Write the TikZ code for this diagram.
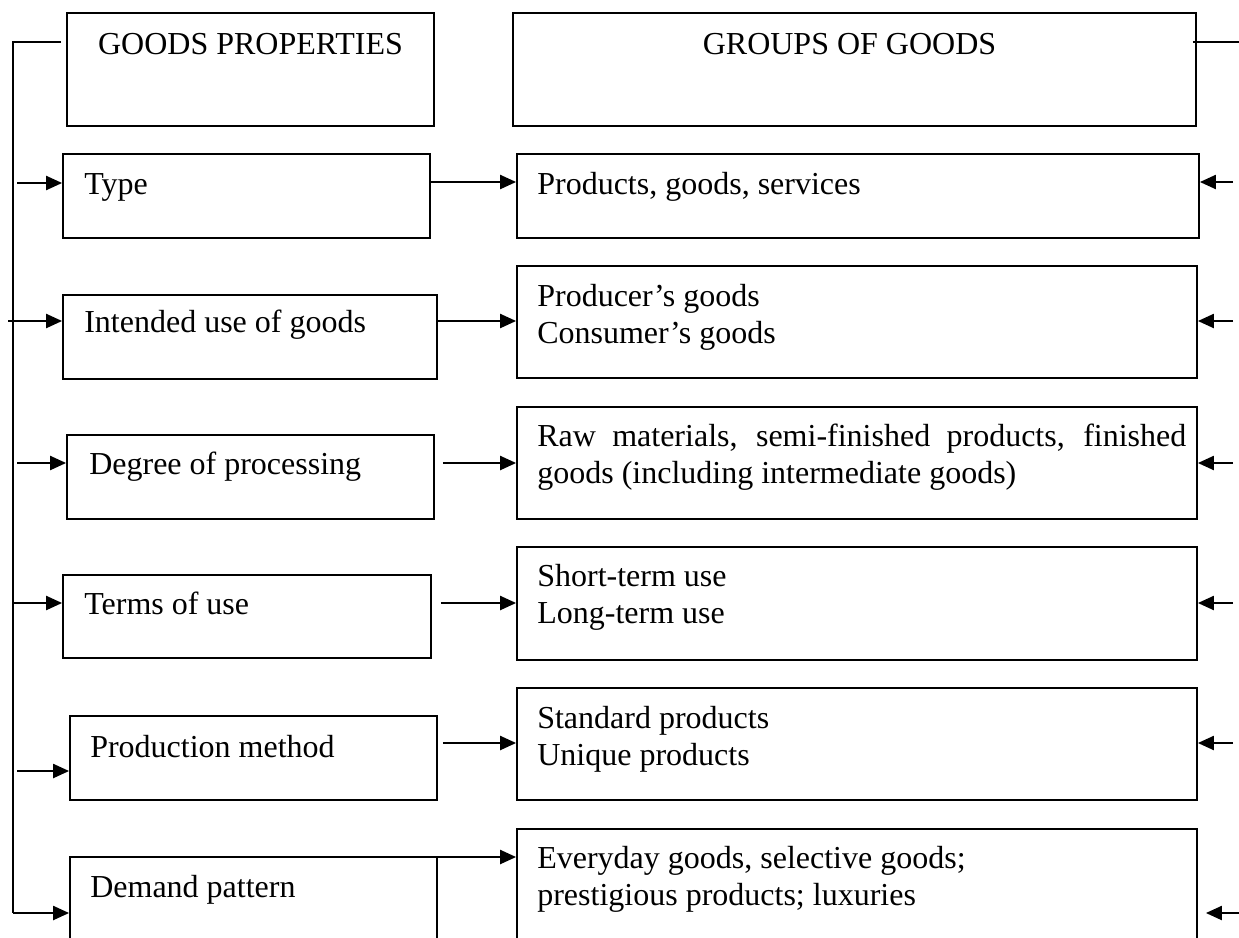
\documentclass[tikz,border=0pt]{standalone}
\usepackage{fontspec}
\setmainfont{Liberation Serif}
\usetikzlibrary{arrows.meta,calc}
\begin{document}
\begin{tikzpicture}[x=1pt,y=-1pt,
  box/.style={draw, line width=1.8pt, inner sep=0pt, rectangle},
  txt/.style={anchor=base west, inner sep=0pt, align=left, font=\fontsize{32}{37}\selectfont},
  conn/.style={line width=2.2pt},
  arr/.style={line width=2.2pt, -{Triangle[length=16pt,width=14pt]}}]
\useasboundingbox (0,0) rectangle (1239,937);
\fill[white] (0,0) rectangle (1239,937);
\begin{scope}
\clip (0,0) rectangle (1239,937);

% headers
\node[box, minimum width=367pt, minimum height=113pt] (hdrL) at (250.5,69.5) {};
\node[box, minimum width=683pt, minimum height=113pt] (hdrR) at (854.5,69.5) {};
\node[txt, anchor=base] (hdrLt) at ($(hdrL.north)+(0,42)$) {GOODS PROPERTIES};
\node[txt, anchor=base] (hdrRt) at ($(hdrR.north)+(-5,42)$) {GROUPS OF GOODS};

% left column: goods properties
\node[box, minimum width=367pt, minimum height=84pt] (L1) at (246.5,196) {};
\node[box, minimum width=374pt, minimum height=84pt] (L2) at (250,337) {};
\node[box, minimum width=367pt, minimum height=84pt] (L3) at (250.5,477) {};
\node[box, minimum width=368pt, minimum height=83pt] (L4) at (247,616.5) {};
\node[box, minimum width=367pt, minimum height=84pt] (L5) at (253.5,758) {};
\node[box, minimum width=367pt, minimum height=100pt] (L6) at (253.5,907) {};

\node[txt] (L1t) at ($(L1.north west)+(22,41)$) {Type};
\node[txt] (L2t) at ($(L2.north west)+(22,38)$) {Intended use of goods};
\node[txt] (L3t) at ($(L3.north west)+(23,40)$) {Degree of processing};
\node[txt] (L4t) at ($(L4.north west)+(22,40)$) {Terms of use};
\node[txt] (L5t) at ($(L5.north west)+(21,42)$) {Production method};
\node[txt] (L6t) at ($(L6.north west)+(21,41)$) {Demand pattern};

% right column: groups of goods (two-line texts are placed by their second baseline)
\node[box, minimum width=682pt, minimum height=84pt] (R1) at (858,196) {};
\node[box, minimum width=680pt, minimum height=112pt] (R2) at (857,322) {};
\node[box, minimum width=680pt, minimum height=112pt] (R3) at (857,463) {};
\node[box, minimum width=680pt, minimum height=113pt] (R4) at (857,603.5) {};
\node[box, minimum width=680pt, minimum height=112pt] (R5) at (857,744) {};
\node[box, minimum width=680pt, minimum height=131pt] (R6) at (857,894.5) {};

\node[txt] (R1t) at ($(R1.north west)+(21,41)$) {Products, goods, services};
\node[txt] (R2t) at ($(R2.north west)+(21,78)$) {Producer’s goods\\Consumer’s goods};
\node[txt] (R3t) at ($(R3.north west)+(21,77)$)
  {\makebox[649pt][s]{Raw materials, semi-finished products, finished}\\goods (including intermediate goods)};
\node[txt] (R4t) at ($(R4.north west)+(21,77)$) {Short-term use\\Long-term use};
\node[txt] (R5t) at ($(R5.north west)+(21,78)$) {Standard products\\Unique products};
\node[txt] (R6t) at ($(R6.north west)+(21,77)$) {Everyday goods, selective goods;\\prestigious products; luxuries};

% left trunk
\coordinate (top) at (13,42);
\coordinate (bot) at (13,913);
\coordinate (ya) at (0,183);
\coordinate (yb) at (0,321);
\coordinate (yc) at (0,463);
\coordinate (yd) at (0,603);
\coordinate (ye) at (0,771);
\draw[conn] ([xshift=-5pt]hdrL.west |- top) -- (top) -- (bot);
\draw[arr] ([xshift=4pt]top |- ya) -- (L1.west |- ya);
\draw[arr] ([xshift=-5pt]top |- yb) -- (L2.west |- yb);
\draw[arr] ([xshift=4pt]top |- yc) -- (L3.west |- yc);
\draw[arr] (top |- yd) -- (L4.west |- yd);
\draw[arr] ([xshift=4pt]top |- ye) -- (L5.west |- ye);
\draw[arr] (bot) -- (L6.west |- bot);

% middle connectors
\coordinate (m1) at (0,182);
\coordinate (m2) at (0,321);
\coordinate (m3) at (0,463);
\coordinate (m4) at (0,603);
\coordinate (m5) at (0,743);
\coordinate (m6) at (0,857);
\draw[arr] (L1.east |- m1) -- (R1.west |- m1);
\draw[arr] (L2.east |- m2) -- (R2.west |- m2);
\draw[arr] ([xshift=8pt]L3.east |- m3) -- (R3.west |- m3);
\draw[arr] ([xshift=9pt]L4.east |- m4) -- (R4.west |- m4);
\draw[arr] ([xshift=5pt]L5.east |- m5) -- (R5.west |- m5);
\draw[arr] ([xshift=-2pt]L6.east |- m6) -- (R6.west |- m6);

% right side inputs
\coordinate (rtop) at (1239,42);
\draw[line width=1.1pt] ([xshift=-4pt]hdrR.east |- rtop) -- (rtop);
\coordinate (rx) at (1233,0);
\draw[arr] (rx |- m1) -- (R1.east |- m1);
\draw[arr] (rx |- m2) -- (R2.east |- m2);
\draw[arr] (rx |- m3) -- (R3.east |- m3);
\draw[arr] (rx |- m4) -- (R4.east |- m4);
\draw[arr] (rx |- m5) -- (R5.east |- m5);
\coordinate (r6) at (1239,913);
\draw[arr] (r6) -- ([xshift=8pt]R6.east |- r6);
\end{scope}
\end{tikzpicture}
\end{document}
